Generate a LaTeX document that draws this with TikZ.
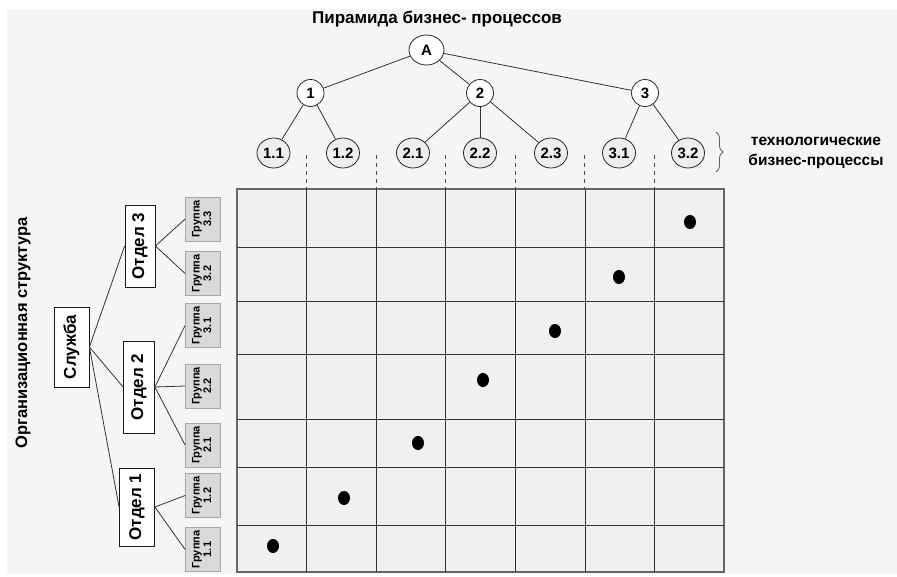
\documentclass[tikz,border=0pt]{standalone}
\usepackage{fontspec}
\setmainfont{Liberation Sans}
\usepackage{graphicx}
\usepackage{xcolor}
\usepackage{tikz}
\usetikzlibrary{positioning,shapes.geometric,decorations.pathreplacing,calc}

\newcommand{\rot}[1]{\rotatebox{90}{#1}}

\begin{document}
\begin{tikzpicture}[x=1pt, y=-1pt, font=\bfseries,
  edge/.style={draw=black!80, line width=0.8pt},
  topproc/.style={draw=black!85, ellipse, fill=white, line width=0.8pt, inner sep=0pt,
                  minimum width=35, minimum height=30, font=\fontsize{15}{15}\bfseries},
  proc/.style={draw=black!85, circle, fill=white, line width=0.8pt, inner sep=0pt,
               minimum size=27, font=\fontsize{15}{15}\bfseries},
  leaf/.style={draw=black!85, ellipse, fill=black!7, line width=0.8pt, inner sep=0pt,
               minimum width=33, minimum height=30, font=\fontsize{15}{15}\bfseries},
  dept/.style={draw=black!90, fill=white, line width=0.8pt, inner sep=0pt,
               font=\fontsize{17}{17}\bfseries},
  grp/.style={draw=black!35, fill=black!15, line width=0.8pt, inner sep=0pt,
              minimum width=35, minimum height=44, font=\fontsize{11}{11.5}\bfseries},
  cellline/.style={draw=black!80, line width=0.7pt},
  dot/.style={fill=black}
]
\useasboundingbox (0,0) rectangle (897,576);
\fill[black!4] (7,9) rectangle (897,574);

% pyramid of business processes
\node[font=\fontsize{17}{19}\bfseries] (title) at (437,19) {Пирамида бизнес- процессов};
\node[topproc] (A) at (426.5,50) {A};
\node[proc] (p1) at (310.5,93) {1};
\node[proc] (p2) at (480,93) {2};
\node[proc] (p3) at (645,93) {3};
\foreach \a/\b/\x in {1/1/273.5, 1/2/343, 2/1/413, 2/2/480, 2/3/551, 3/1/619, 3/2/688}
  \node[leaf] (p\a\b) at (\x,153) {\a.\b};
\foreach \u/\v in {A/p1, A/p2, A/p3, p1/p11, p1/p12, p2/p21, p2/p22, p2/p23, p3/p31, p3/p32}
  \draw[edge] (\u) -- (\v);

\draw[black!65, line width=0.8pt, decoration={brace, amplitude=7pt}, decorate]
  (716,132) -- (716,172);
\node[font=\fontsize{15.5}{20}\bfseries, align=center] (tech) at (816,153)
  {технологические\\бизнес-процессы};

% matrix
\filldraw[fill=black!6, draw=black!60, line width=1.2pt] (237,189) rectangle (724,572);
\foreach \i in {1,...,6} {
  \draw[cellline] ({237+69.57*\i},189) -- ({237+69.57*\i},572);
  \draw[black!70, line width=0.8pt, dash pattern=on 4pt off 4pt]
    ({237+69.57*\i},155) -- ({237+69.57*\i},189);
}
\foreach \y in {247,301,354,419,467,525}
  \draw[cellline] (237,\y) -- (724,\y);
\foreach \x/\y in {273/546, 344/498, 418/443, 483/380, 555/331, 619/277, 690/222}
  \fill[dot] (\x,\y) ellipse [x radius=6pt, y radius=7pt];

% organisational structure
\node[rotate=90, font=\fontsize{16.5}{18}\bfseries] (org) at (23,333) {Организационная структура};
\node[dept, minimum width=35, minimum height=80] (sl) at (71.5,347) {\rot{Служба}};
\node[dept, minimum width=30, minimum height=82] (o3) at (140,246) {\rot{Отдел 3}};
\node[dept, minimum width=31, minimum height=92] (o2) at (139,387) {\rot{Отдел 2}};
\node[dept, minimum width=35, minimum height=78] (o1) at (137,507) {\rot{Отдел 1}};
\foreach \a/\b/\y in {3/3/219, 3/2/273.5, 3/1/325.5, 2/2/386, 2/1/445, 1/2/495.5, 1/1/549.5}
  \node[grp] (g\a\b) at (203,\y) {\rot{\begin{tabular}{@{}c@{}}Группа\\\a.\b\end{tabular}}};

\foreach \u/\v in {sl/o3, sl/o2, sl/o1, o3/g33, o3/g32, o2/g31, o2/g22, o2/g21, o1/g12, o1/g11}
  \draw[edge] (\u.east) -- (\v.west);
\end{tikzpicture}
\end{document}
